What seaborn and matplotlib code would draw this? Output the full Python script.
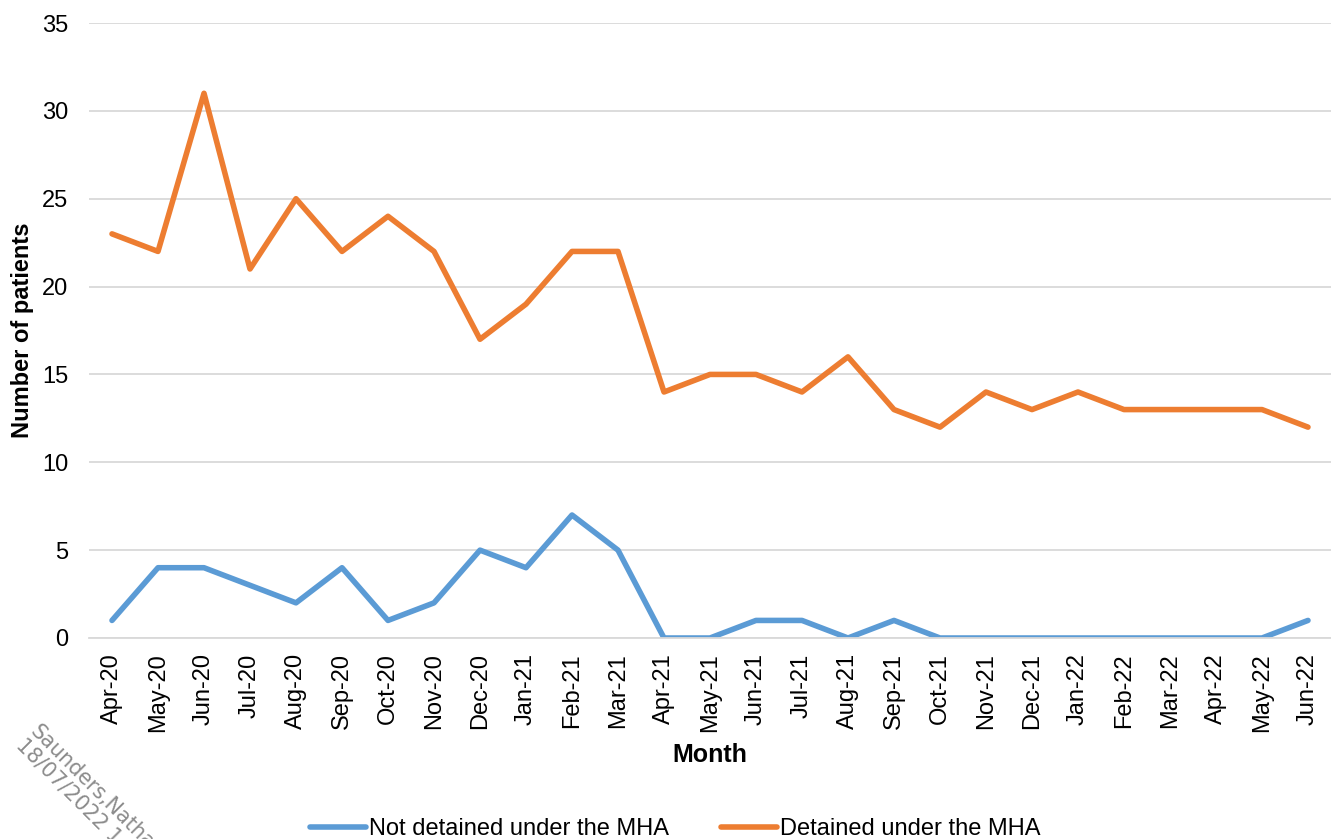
import numpy as np
import pandas as pd
import matplotlib.pyplot as plt
from matplotlib.ticker import MultipleLocator
import seaborn as sns

months = ["Apr-20", "May-20", "Jun-20", "Jul-20", "Aug-20", "Sep-20", "Oct-20", "Nov-20",
          "Dec-20", "Jan-21", "Feb-21", "Mar-21", "Apr-21", "May-21", "Jun-21", "Jul-21",
          "Aug-21", "Sep-21", "Oct-21", "Nov-21", "Dec-21", "Jan-22", "Feb-22", "Mar-22",
          "Apr-22", "May-22", "Jun-22"]
not_detained = [1, 4, 4, 3, 2, 4, 1, 2, 5, 4, 7, 5, 0, 0, 1, 1, 0, 1, 0, 0, 0, 0, 0, 0, 0, 0, 1]
detained = [23, 22, 31, 21, 25, 22, 24, 22, 17, 19, 22, 22, 14, 15, 15, 14, 16, 13, 12, 14,
            13, 14, 13, 13, 13, 13, 12]
series_names = ["Not detained under the MHA", "Detained under the MHA"]
colours = ["#5B9BD5", "#ED7D31"]

# long form table for seaborn
df = pd.DataFrame({
    "idx": list(range(len(months))) * 2,
    "value": not_detained + detained,
    "series": [series_names[0]] * len(months) + [series_names[1]] * len(months),
})

sns.set_style("white")
plt.rcParams['font.family'] = ['Liberation Sans', 'DejaVu Sans']
plt.rcParams['text.color'] = 'black'
plt.rcParams['axes.labelcolor'] = 'black'
plt.rcParams['xtick.color'] = 'black'
plt.rcParams['ytick.color'] = 'black'

fig = plt.figure(figsize=(13.31, 8.39), dpi=100)
ax = fig.add_axes([89 / 1331, 201 / 839, 1242 / 1331, 615 / 839])

sns.lineplot(data=df, x="idx", y="value", hue="series", palette=colours,
             linewidth=4, ax=ax, legend=False, solid_capstyle="round")

ax.set_xlim(-0.5, 26.3)
ax.set_ylim(0, 35)
ax.yaxis.set_major_locator(MultipleLocator(5))
ax.yaxis.grid(True, color="#D9D9D9", linewidth=1.3)
ax.set_axisbelow(True)

ax.set_xticks(range(len(months)))
ax.set_xticklabels(months, rotation=90)
ax.set_xticks(np.arange(-0.5, len(months), 1), minor=True)
ax.tick_params(axis="x", which="major", length=0, pad=11, labelsize=17)
ax.tick_params(axis="x", which="minor", length=6, color="#D9D9D9", width=1.3)
ax.tick_params(axis="y", length=0, pad=15, labelsize=17)

for s in ["top", "right", "left"]:
    ax.spines[s].set_visible(False)
ax.spines["bottom"].set_color("#D9D9D9")
ax.spines["bottom"].set_linewidth(1.3)

ax.set_xlabel("Month", fontsize=18, fontweight="bold", labelpad=8)
ax.set_ylabel("Number of patients", fontsize=17, fontweight="bold", labelpad=6)

handles = [plt.Line2D([], [], color=c, linewidth=4, solid_capstyle="round") for c in colours]
fig.legend(handles, series_names, loc="center", bbox_to_anchor=(0.507, 10 / 839), ncol=2,
           frameon=False, fontsize=17, handlelength=2.4, handletextpad=0.1, columnspacing=2.2)

# watermark
fig.text(40 / 1331, 118 / 839, "Saunders,Nathan\n18/07/2022 1", rotation=-45, color="#8C8C8C",
         fontsize=15, family="DejaVu Sans", ha="left", va="top", rotation_mode="anchor",
         linespacing=0.95)

fig.savefig("out.png", dpi=100)
